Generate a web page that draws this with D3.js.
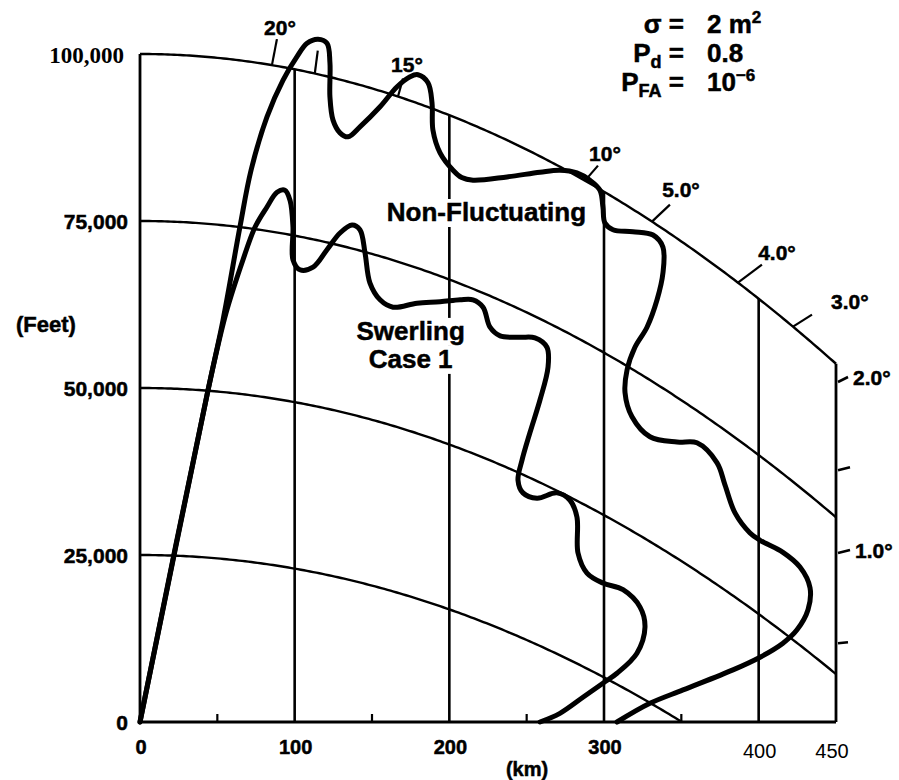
<!DOCTYPE html>
<html><head><meta charset="utf-8">
<script src="https://cdn.jsdelivr.net/npm/d3@7"></script>
<style>body{margin:0;background:#fff}</style>
</head><body>
<svg id="chart" width="899" height="780"></svg>
<script>
// ---------------- data ----------------
const xTicks = [0, 100, 200, 300, 400, 450];
const xTickLabels = ["0", "100", "200", "300", "400", "450"];
const xMinorTicks = [50, 150, 250, 350];
const yTicks = [0, 25000, 50000, 75000, 100000];
const yTickLabels = ["0", "25,000", "50,000", "75,000", "100,000"];
const heightLines = [25000, 50000, 75000, 100000];            // ft
const heightCurvature = [0.2036, 0.2115, 0.219, 0.229];       // apparent drop, ft per km^2
const gridRanges = [100, 200, 300, 400];                      // km

// [range km, apparent height ft]
const nonFluctuating = [[0,0],[44.0,49700],[53.7,60200],[64.6,74100],[71.8,82600],[82.1,90600],[92.5,96100],
  [101.5,99600],[108.0,101600],[115.1,102200],[120.9,101600],[122.8,98700],[122.8,93600],[124.8,90100],
  [129.3,88200],[134.5,87600],[142.2,89100],[155.2,92100],[166.2,95100],[174.6,96600],[179.7,96900],
  [186.2,95700],[188.8,92700],[189.4,88600],[194.0,85200],[202.4,82600],[208.0,81500],[215.3,81100],
  [237.3,81600],[258.6,82300],[271.5,82600],[282.5,82200],[290.9,81100],[297.4,79600],[299.3,77100],
  [300.6,74700],[305.8,73700],[318.7,73400],[331.7,72900],[338.1,71100],[338.1,67200],[334.3,63200],
  [327.8,59100],[320.0,56100],[314.9,52700],[313.6,49300],[318.1,45700],[329.7,42700],[347.2,41900],
  [360.1,41800],[373.1,38800],[378.2,35500],[384.7,31300],[394.4,28300],[400.9,27200],[415.7,25400],
  [426.7,23200],[433.2,20100],[431.9,16800],[424.8,13800],[415.7,11800],[400.9,9700],[383.4,7800],
  [351.1,4800],[329.7,2800],[308.4,0]];
const swerlingCase1 = [[0,0],[44.0,49700],[55.6,61200],[66.6,69200],[74.4,74100],[82.1,77100],[88.6,79300],
  [93.7,79600],[97.0,78100],[98.9,74100],[98.9,69200],[103.4,67700],[111.9,68100],[120.9,70700],
  [129.3,73200],[137.1,74400],[142.2,73700],[145.5,70200],[148.7,65700],[155.2,63200],[163.6,62100],
  [179.1,62700],[194.0,62900],[206.9,63200],[215.3,63200],[221.8,62100],[226.3,59100],[232.8,57800],
  [245.7,57600],[255.4,57500],[263.1,56100],[263.8,53100],[258.6,48200],[252.1,43300],[247.0,39200],
  [244.4,36200],[247.6,34300],[256.7,33500],[269.6,34300],[278.0,33200],[282.5,30700],[283.2,25300],
  [289.0,22300],[299.3,20800],[312.3,19800],[323.3,17200],[326.5,14200],[321.3,10300],[308.4,7300],
  [299.3,5800],[286.4,3700],[271.5,1300],[258.6,0]];

// elevation-angle marks on the 100,000 ft boundary (range km) and on the 450 km edge (apparent ft)
const topAngleLabels = ["20°", "", "15°", "10°", "5.0°", "4.0°", "3.0°"];
const topAngleRanges = [85.3, 113, 166.8, 287.7, 331, 386.6, 422.2];
const sideAngleLabels = ["2.0°", "", "1.0°", ""];
const sideAngleHeights = [50900, 37700, 25300, 11800];

// ---------------- styles ----------------
const topTickVec = [[5,-26],[3,-23],[5,-18],[13,-15],[18,-17],[24,-18],[19,-12]];
const topLabelOff = [[3,-4],[0,0],[4,-7],[7,-5],[11,-8],[15,-5],[19,-6]];
const sideTickVec = [[10,-5],[12,-3],[12,-3],[10,-1]];
const FONT = "'Liberation Sans', Arial, Helvetica, sans-serif";
const HEAVY = 0.5; // extra stroke on bold text to mimic the heavy original type

// ---------------- chart ----------------
const svg = d3.select("#chart");
const x = d3.scaleLinear().domain([0, 450]).range([140, 836]);
const y = d3.scaleLinear().domain([0, 100000]).range([722, 54]);

const apparent = (i, R) => heightLines[i] - heightCurvature[i] * R * R;

const line = d3.line().x(d => x(d[0])).y(d => y(d[1]));
const smooth = d3.line().x(d => x(d[0])).y(d => y(d[1])).curve(d3.curveCatmullRom.alpha(0.5));

const gGrid = svg.append("g").attr("fill", "none").attr("stroke", "#000");

// constant-height curves
heightLines.forEach((h, i) => {
  const rMax = Math.min(450, Math.sqrt(h / heightCurvature[i]));
  const pts = d3.range(0, rMax, 2).map(R => [R, apparent(i, R)]);
  pts.push([rMax, Math.max(0, apparent(i, rMax))]);
  gGrid.append("path").attr("d", line(pts)).attr("stroke-width", 2.4);
});

// vertical range lines
gridRanges.forEach(R => {
  gGrid.append("line")
    .attr("x1", x(R)).attr("x2", x(R))
    .attr("y1", y(0)).attr("y2", y(apparent(3, R)))
    .attr("stroke-width", 2.6);
});

// frame
gGrid.append("line").attr("x1", x(0)).attr("x2", x(0)).attr("y1", y(0)).attr("y2", y(100000)).attr("stroke-width", 2.8);
gGrid.append("line").attr("x1", x(450)).attr("x2", x(450)).attr("y1", y(0)).attr("y2", y(apparent(3, 450))).attr("stroke-width", 2.8);
gGrid.append("line").attr("x1", x(0)).attr("x2", x(450)).attr("y1", y(0)).attr("y2", y(0)).attr("stroke-width", 2.8);
xMinorTicks.forEach(R => {
  gGrid.append("line").attr("x1", x(R)).attr("x2", x(R)).attr("y1", y(0)).attr("y2", y(0) - 8).attr("stroke-width", 2.2);
});

// angle marks
const gAng = svg.append("g").attr("font-family", FONT).attr("font-weight", "bold").attr("font-size", 21);
topAngleRanges.forEach((R, i) => {
  const px = x(R), py = y(apparent(3, R));
  const [dx, dy] = topTickVec[i];
  gAng.append("line").attr("x1", px).attr("y1", py).attr("x2", px + dx).attr("y2", py + dy)
    .attr("stroke", "#000").attr("stroke-width", 2.2);
  if (topAngleLabels[i]) {
    const [ox, oy] = topLabelOff[i];
    const anchor = i >= 6 ? "start" : "middle";
    gAng.append("text").attr("x", px + dx + ox).attr("y", py + dy + oy)
      .attr("stroke", "#000").attr("stroke-width", HEAVY)
      .attr("text-anchor", anchor).text(topAngleLabels[i]);
  }
});
sideAngleHeights.forEach((h, i) => {
  const px = x(450) + 2, py = y(h);
  const [dx, dy] = sideTickVec[i];
  gAng.append("line").attr("x1", px).attr("y1", py).attr("x2", px + dx).attr("y2", py + dy)
    .attr("stroke", "#000").attr("stroke-width", 2.6);
  if (sideAngleLabels[i]) {
    gAng.append("text").attr("x", px + dx + 5).attr("y", py + dy + 8)
      .attr("stroke", "#000").attr("stroke-width", HEAVY).text(sideAngleLabels[i]);
  }
});

// axis labels
const gAx = svg.append("g").attr("font-family", FONT).attr("font-weight", "bold");
yTicks.forEach((v, i) => {
  const t = gAx.append("text").attr("x", i === 4 ? 124 : 128).attr("y", y(v) + (i === 4 ? 9 : 8))
    .attr("text-anchor", "end").text(yTickLabels[i]);
  if (i === 4) t.attr("font-family", "'Liberation Serif', 'Times New Roman', serif").attr("font-size", 23);
  else t.attr("font-size", 21).attr("stroke", "#000").attr("stroke-width", HEAVY);
});
xTicks.forEach((v, i) => {
  const t = gAx.append("text").attr("x", x(v) + (i === 5 ? -4 : 1)).attr("y", i >= 4 ? 758 : 754)
    .attr("text-anchor", "middle").attr("font-size", 20)
    .attr("font-weight", i >= 4 ? "normal" : "bold").text(xTickLabels[i]);
  if (i < 4) t.attr("stroke", "#000").attr("stroke-width", HEAVY);
});
gAx.append("text").attr("x", 527).attr("y", 776).attr("text-anchor", "middle").attr("font-size", 20)
  .attr("stroke", "#000").attr("stroke-width", HEAVY).text("(km)");
gAx.append("text").attr("x", 46).attr("y", 332).attr("text-anchor", "middle").attr("font-size", 22)
  .attr("stroke", "#000").attr("stroke-width", HEAVY).text("(Feet)");

// curve labels with white background
const gLab = svg.append("g").attr("font-family", FONT).attr("font-weight", "bold").attr("font-size", 26);
function haloText(txt, px, py) {
  const t = gLab.append("text").attr("x", px).attr("y", py).attr("text-anchor", "middle")
    .attr("stroke", "#000").attr("stroke-width", HEAVY).text(txt);
  const bb = t.node().getBBox();
  gLab.insert("rect", () => t.node()).attr("x", bb.x - 2).attr("y", bb.y + 2)
    .attr("width", bb.width + 4).attr("height", bb.height - 2).attr("fill", "#fff");
}
haloText("Non-Fluctuating", x(224), y(75000));
haloText("Swerling", x(175), y(57200));
haloText("Case 1", x(175), y(57200) + 28);

// detection curves
const gCurves = svg.append("g").attr("fill", "none").attr("stroke", "#000")
  .attr("stroke-width", 5).attr("stroke-linejoin", "round").attr("stroke-linecap", "round");
gCurves.append("path").attr("d", smooth(nonFluctuating));
gCurves.append("path").attr("d", smooth(swerlingCase1));

// parameter legend
const gLeg = svg.append("g").attr("font-family", FONT).attr("font-weight", "bold").attr("font-size", 26)
  .attr("stroke", "#000").attr("stroke-width", HEAVY);
const r1 = gLeg.append("text").attr("x", 684).attr("y", 33).attr("text-anchor", "end");
r1.append("tspan").text("σ =");
const v1 = gLeg.append("text").attr("x", 707).attr("y", 33);
v1.append("tspan").text("2 m");
v1.append("tspan").attr("font-size", 17).attr("dy", -10).text("2");

const r2 = gLeg.append("text").attr("x", 684).attr("y", 62).attr("text-anchor", "end");
r2.append("tspan").text("P");
r2.append("tspan").attr("font-size", 18).attr("dy", 6).text("d");
r2.append("tspan").attr("dy", -6).text(" =");
gLeg.append("text").attr("x", 707).attr("y", 62).text("0.8");

const r3 = gLeg.append("text").attr("x", 684).attr("y", 91).attr("text-anchor", "end");
r3.append("tspan").text("P");
r3.append("tspan").attr("font-size", 18).attr("dy", 6).text("FA");
r3.append("tspan").attr("dy", -6).text(" =");
const v3 = gLeg.append("text").attr("x", 707).attr("y", 91);
v3.append("tspan").text("10");
v3.append("tspan").attr("font-size", 17).attr("dy", -10).text("−6");
</script>
</body></html>
